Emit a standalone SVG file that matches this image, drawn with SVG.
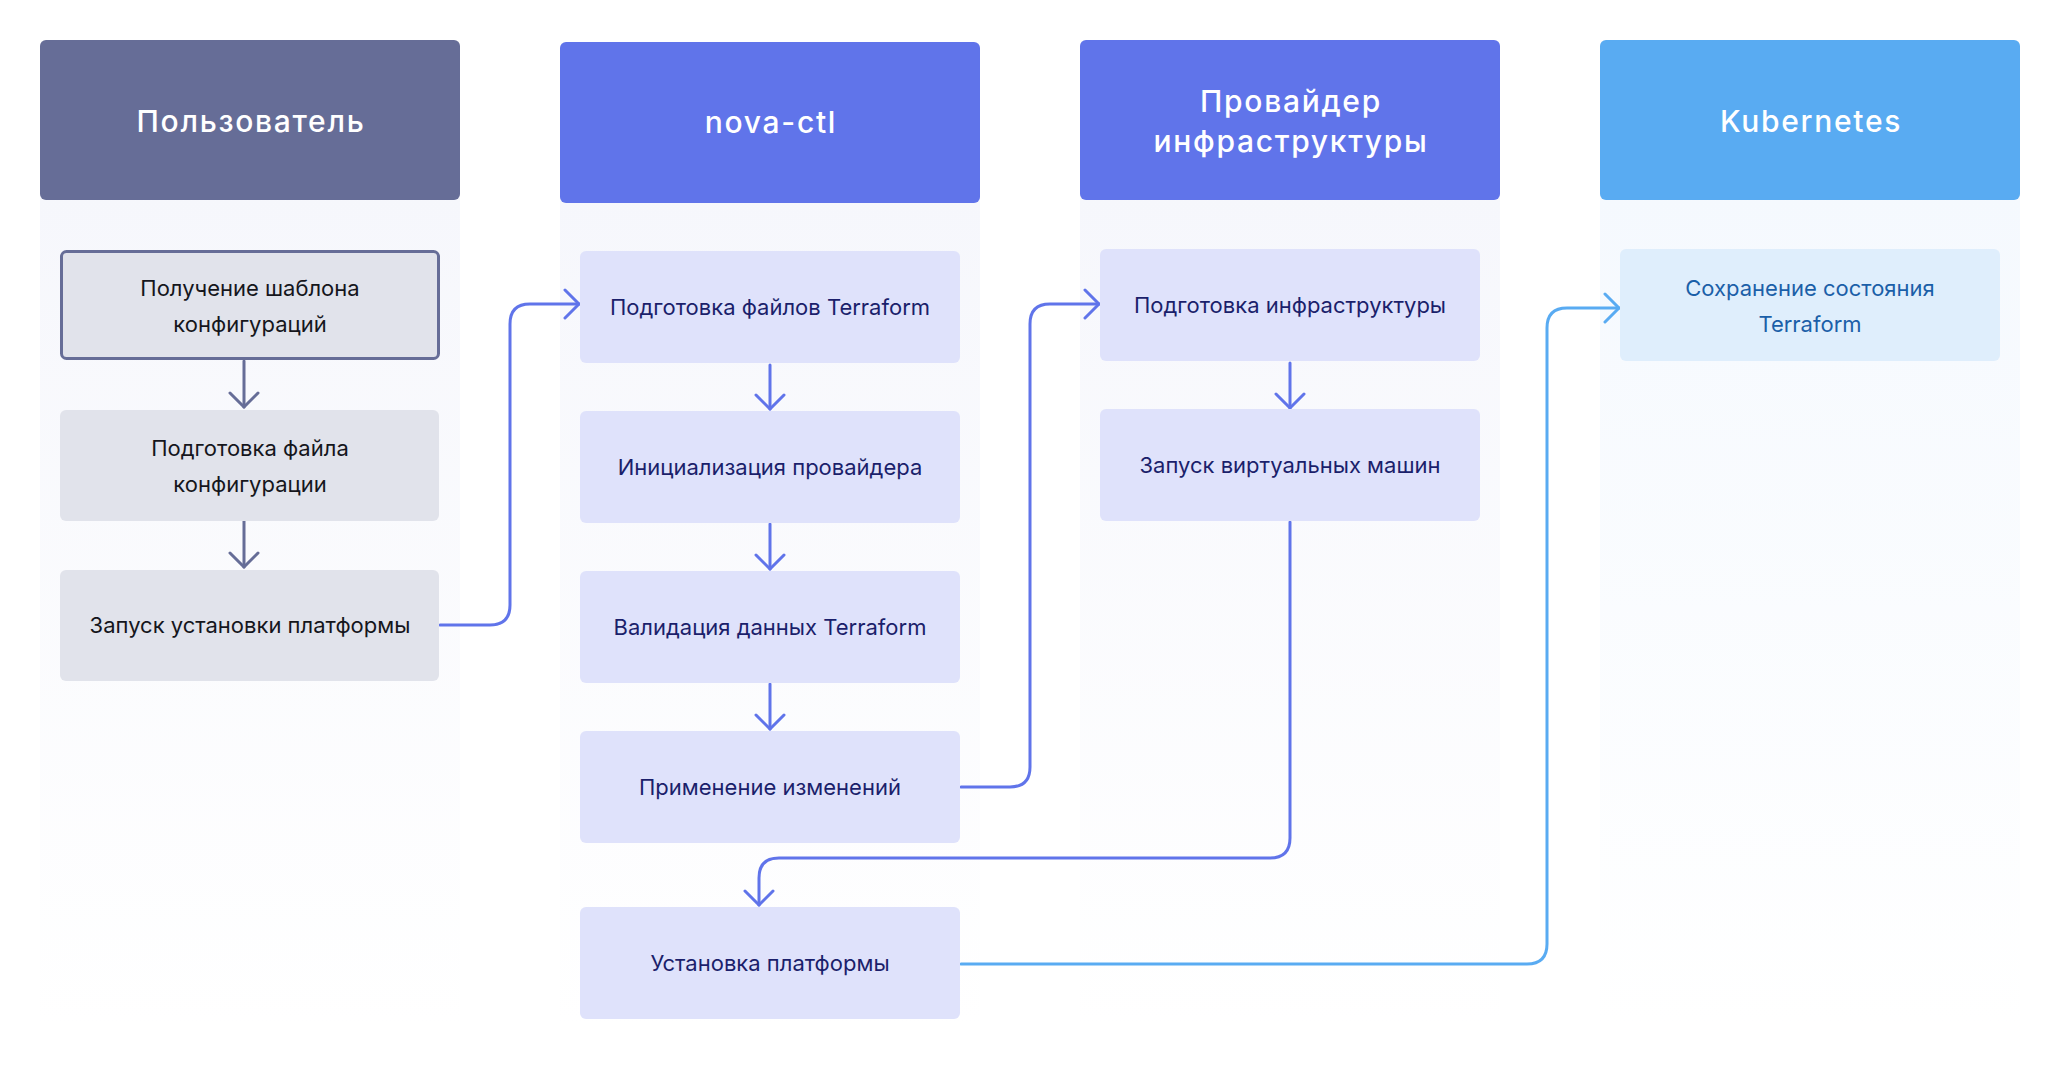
<svg xmlns="http://www.w3.org/2000/svg" width="2060" height="1089" viewBox="0 0 2060 1089">
<style>
.hdr{font-family:Inter,"Noto Sans",sans-serif;font-size:30px;font-weight:500;fill:#fff;text-anchor:middle;letter-spacing:1.7px}
.nt{font-family:Inter,"Noto Sans",sans-serif;font-size:22px;text-anchor:middle}
.g{fill:#E1E3EB}
.p{fill:#DFE2FB}
.b{fill:#DFEEFC}
.tg{fill:#15161c}
.tp{fill:#1B1F6B}
.tb{fill:#1B5FA8}
.c{fill:none;stroke-width:3;stroke-linecap:round;stroke-linejoin:round}
</style>
<defs>
<linearGradient id="lane" x1="0" y1="0" x2="0" y2="1">
<stop offset="0" stop-color="#F6F7FC"/>
<stop offset="1" stop-color="#FFFFFF"/>
</linearGradient>
<linearGradient id="laneb" x1="0" y1="0" x2="0" y2="1">
<stop offset="0" stop-color="#F5F9FE"/>
<stop offset="1" stop-color="#FFFFFF"/>
</linearGradient>
<marker id="ag" markerUnits="userSpaceOnUse" viewBox="0 0 20 32" markerWidth="20" markerHeight="32" refX="16" refY="16" orient="auto">
<path d="M2,2 L16,16 L2,30" fill="none" stroke="#666D97" stroke-width="3" stroke-linecap="round" stroke-linejoin="round"/>
</marker>
<marker id="ap" markerUnits="userSpaceOnUse" viewBox="0 0 20 32" markerWidth="20" markerHeight="32" refX="16" refY="16" orient="auto">
<path d="M2,2 L16,16 L2,30" fill="none" stroke="#6074EA" stroke-width="3" stroke-linecap="round" stroke-linejoin="round"/>
</marker>
<marker id="ab" markerUnits="userSpaceOnUse" viewBox="0 0 20 32" markerWidth="20" markerHeight="32" refX="16" refY="16" orient="auto">
<path d="M2,2 L16,16 L2,30" fill="none" stroke="#59ABF2" stroke-width="3" stroke-linecap="round" stroke-linejoin="round"/>
</marker>
</defs>
<rect width="2060" height="1089" fill="#FFFFFF"/>

<g id="lane-user">
<rect x="40" y="195" width="420" height="830" fill="url(#lane)"/>
<rect x="40" y="40" width="420" height="160" rx="6" fill="#666D97"/>
<text class="hdr" x="251" y="132">Пользователь</text>
</g>
<g id="lane-novactl">
<rect x="560" y="195" width="420" height="830" fill="url(#lane)"/>
<rect x="560" y="42" width="420" height="161" rx="6" fill="#6074EA"/>
<text class="hdr" x="771" y="133">nova-ctl</text>
</g>
<g id="lane-provider">
<rect x="1080" y="195" width="420" height="830" fill="url(#lane)"/>
<rect x="1080" y="40" width="420" height="160" rx="6" fill="#6074EA"/>
<text class="hdr" x="1291" y="112">Провайдер</text>
<text class="hdr" x="1291" y="152">инфраструктуры</text>
</g>
<g id="lane-k8s">
<rect x="1600" y="195" width="420" height="830" fill="url(#laneb)"/>
<rect x="1600" y="40" width="420" height="160" rx="6" fill="#59ABF2"/>
<text class="hdr" x="1811" y="132">Kubernetes</text>
</g>

<g id="connectors">
<path class="c" stroke="#666D97" marker-end="url(#ag)" d="M244,361 V407"/>
<path class="c" stroke="#666D97" marker-end="url(#ag)" d="M244,521 V567"/>
<path class="c" stroke="#6074EA" marker-end="url(#ap)" d="M440,625 H490 Q510,625 510,605 V324 Q510,304 530,304 H579"/>
<path class="c" stroke="#6074EA" marker-end="url(#ap)" d="M770,365 V409"/>
<path class="c" stroke="#6074EA" marker-end="url(#ap)" d="M770,524 V569"/>
<path class="c" stroke="#6074EA" marker-end="url(#ap)" d="M770,684 V729"/>
<path class="c" stroke="#6074EA" marker-end="url(#ap)" d="M961,787 H1010 Q1030,787 1030,767 V324 Q1030,304 1050,304 H1099"/>
<path class="c" stroke="#6074EA" marker-end="url(#ap)" d="M1290,363 V408"/>
<path class="c" stroke="#6074EA" marker-end="url(#ap)" d="M1290,522 V838 Q1290,858 1270,858 H779 Q759,858 759,878 V905"/>
<path class="c" stroke="#59ABF2" marker-end="url(#ab)" d="M961,964 H1527 Q1547,964 1547,944 V328 Q1547,308 1567,308 H1619"/>
</g>

<g id="n-template">
<rect x="61.5" y="251.5" width="377" height="107" rx="5" class="g" stroke="#666D97" stroke-width="3"/>
<text class="nt tg" x="250" y="296">Получение шаблона</text>
<text class="nt tg" x="250" y="332">конфигураций</text>
</g>
<g id="n-configfile">
<rect x="60" y="410" width="379" height="111" rx="6" class="g"/>
<text class="nt tg" x="250" y="456">Подготовка файла</text>
<text class="nt tg" x="250" y="492">конфигурации</text>
</g>
<g id="n-launch">
<rect x="60" y="570" width="379" height="111" rx="6" class="g"/>
<text class="nt tg" x="250" y="633">Запуск установки платформы</text>
</g>

<g id="n-tf-files">
<rect x="580" y="251" width="380" height="112" rx="6" class="p"/>
<text class="nt tp" x="770" y="315">Подготовка файлов Terraform</text>
</g>
<g id="n-init">
<rect x="580" y="411" width="380" height="112" rx="6" class="p"/>
<text class="nt tp" x="770" y="475">Инициализация провайдера</text>
</g>
<g id="n-validate">
<rect x="580" y="571" width="380" height="112" rx="6" class="p"/>
<text class="nt tp" x="770" y="635">Валидация данных Terraform</text>
</g>
<g id="n-apply">
<rect x="580" y="731" width="380" height="112" rx="6" class="p"/>
<text class="nt tp" x="770" y="795">Применение изменений</text>
</g>
<g id="n-install">
<rect x="580" y="907" width="380" height="112" rx="6" class="p"/>
<text class="nt tp" x="770" y="971">Установка платформы</text>
</g>

<g id="n-infra">
<rect x="1100" y="249" width="380" height="112" rx="6" class="p"/>
<text class="nt tp" x="1290" y="313">Подготовка инфраструктуры</text>
</g>
<g id="n-vms">
<rect x="1100" y="409" width="380" height="112" rx="6" class="p"/>
<text class="nt tp" x="1290" y="473">Запуск виртуальных машин</text>
</g>

<g id="n-state">
<rect x="1620" y="249" width="380" height="112" rx="6" class="b"/>
<text class="nt tb" x="1810" y="296">Сохранение состояния</text>
<text class="nt tb" x="1810" y="332">Terraform</text>
</g>
</svg>
